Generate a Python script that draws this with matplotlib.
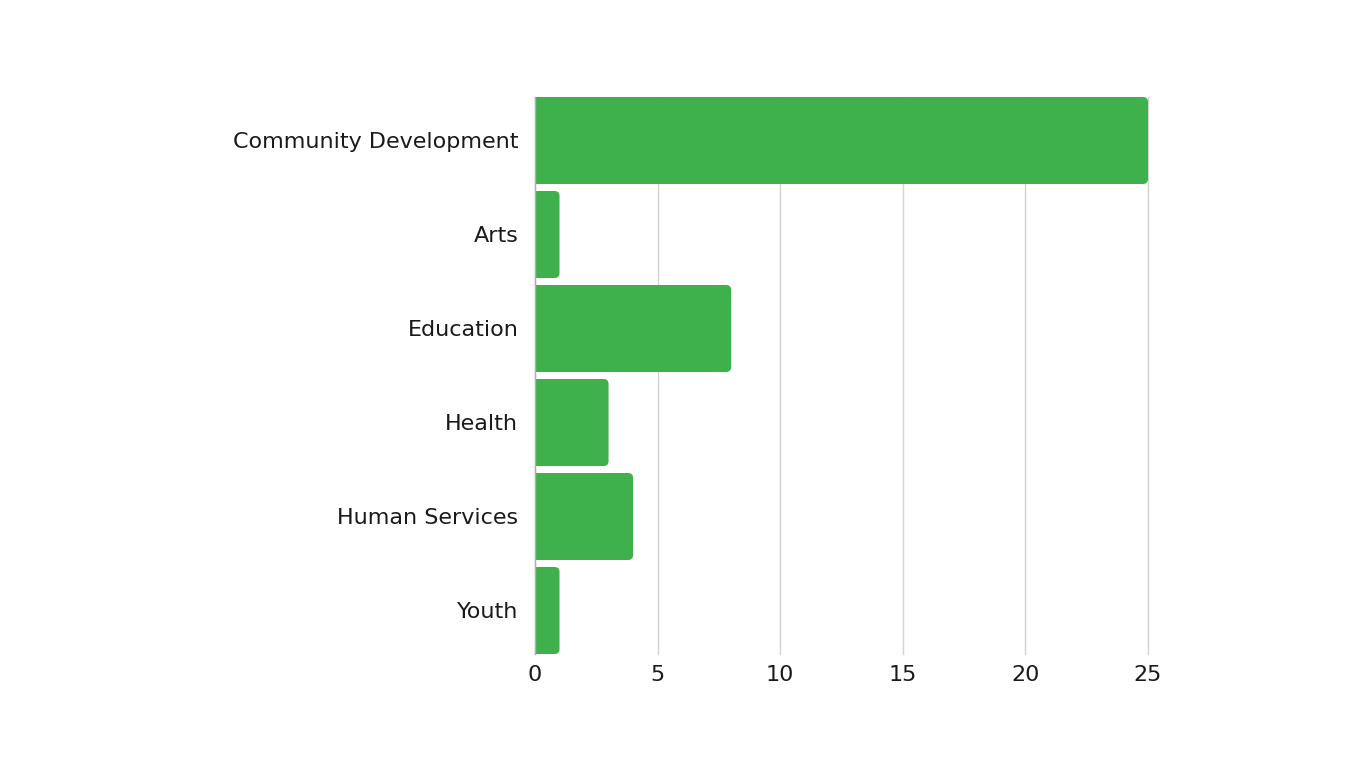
import numpy as np
import matplotlib
matplotlib.use('Agg')
from matplotlib import pyplot as plt
from matplotlib.patches import FancyBboxPatch

# Data
categories = ['Community Development', 'Arts', 'Education', 'Health', 'Human Services', 'Youth']
values = [25, 1, 8, 3, 4, 1]
xticks = [0, 5, 10, 15, 20, 25]

bar_color = '#3eb14c'
text_color = '#1a1a1a'
grid_color = '#d4d4d4'

plt.rcParams['font.family'] = ['DejaVu Sans']

fig = plt.figure(figsize=(13.66, 7.68), dpi=100)
# axes placed in pixels: x 535..1148, y 97..654
ax = fig.add_axes([535/1366, 1 - 654/768, (1148-535)/1366, (654-97)/768])

n = len(categories)
ypos = np.arange(n)
bar_h = 87/94.0
half = bar_h / 2

ax.set_xlim(0, 25)
ax.set_ylim(n - 1 + half, -half)

# pixels per unit to keep the corners round
px_x = (1148-535) / 25.0
px_y = 94.0
aspect = px_x / px_y
r_px = 5.0
r = r_px / px_x

for y, v in zip(ypos, values):
    box = FancyBboxPatch((-1.0, y - half), v + 1.0, bar_h,
                         boxstyle='round,pad=0,rounding_size=%f' % r,
                         mutation_aspect=aspect,
                         facecolor=bar_color, edgecolor='none', zorder=3)
    ax.add_patch(box)

ax.set_yticks(ypos)
ax.set_yticklabels(categories)
ax.set_xticks(xticks)
ax.set_xticklabels([str(t) for t in xticks])

ax.xaxis.grid(True, color=grid_color, linewidth=1)
for gl in ax.get_xgridlines():
    gl.set_clip_on(False)
ax.set_axisbelow(True)
for s in ['top', 'right', 'bottom']:
    ax.spines[s].set_visible(False)
ax.spines['left'].set_color('#b0b0b0')
ax.spines['left'].set_linewidth(1)
ax.spines['left'].set_zorder(4)

ax.tick_params(axis='both', length=0, labelsize=16, colors=text_color)
ax.tick_params(axis='y', pad=12)
ax.tick_params(axis='x', pad=8)

fig.savefig('out.png', dpi=100)
